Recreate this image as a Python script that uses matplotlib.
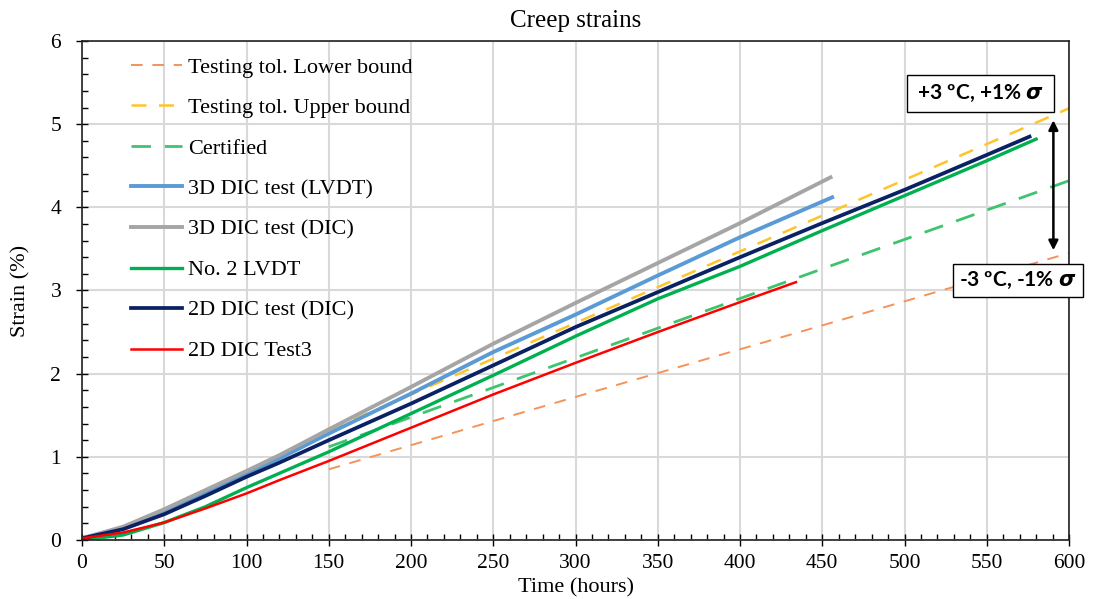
import matplotlib.pyplot as plt
from matplotlib.ticker import MultipleLocator

# testing tolerance bounds and certified curve (start at 150 h)
t_bound = [150, 300, 450, 600]
lower_bound = [0.85, 1.72, 2.58, 3.45]
upper_bound = [1.32, 2.61, 3.90, 5.19]
certified = [1.12, 2.19, 3.26, 4.32]

# 3D DIC test (LVDT)
t_3d_lvdt = [0, 25, 50, 75, 100, 120, 150, 200, 250, 300, 350, 400, 456]
s_3d_lvdt = [0.02, 0.15, 0.35, 0.57, 0.80, 0.98, 1.28, 1.76, 2.26, 2.71, 3.18, 3.64, 4.12]

# 3D DIC test (DIC)
t_3d_dic = [0, 25, 50, 75, 100, 120, 150, 200, 250, 300, 350, 400, 455]
s_3d_dic = [0.02, 0.16, 0.37, 0.60, 0.83, 1.02, 1.33, 1.84, 2.36, 2.85, 3.33, 3.81, 4.36]

# No. 2 LVDT
t_lvdt2 = [0, 25, 50, 75, 100, 150, 200, 250, 300, 350, 400, 450, 500, 550, 580]
s_lvdt2 = [0.0, 0.06, 0.21, 0.40, 0.63, 1.06, 1.52, 1.98, 2.45, 2.90, 3.29, 3.72, 4.14, 4.56, 4.82]

# 2D DIC test (DIC)
t_2d_dic = [0, 25, 50, 75, 100, 120, 150, 200, 250, 300, 350, 400, 450, 500, 550, 576]
s_2d_dic = [0.02, 0.13, 0.31, 0.53, 0.76, 0.93, 1.20, 1.64, 2.10, 2.56, 2.98, 3.40, 3.81, 4.21, 4.63, 4.85]

# 2D DIC Test3
t_2d_t3 = [0, 25, 50, 75, 100, 120, 150, 200, 250, 300, 350, 400, 434]
s_2d_t3 = [0.02, 0.09, 0.21, 0.38, 0.56, 0.72, 0.95, 1.35, 1.75, 2.13, 2.50, 2.86, 3.10]

plt.rcParams['font.family'] = 'Liberation Serif'

fig = plt.figure(figsize=(10.98, 5.99), dpi=100)
ax = fig.add_axes([0.0747, 0.0985, 0.8989, 0.8331])

ax.plot(t_bound, lower_bound, color='#F4935A', lw=1.4, dashes=(6, 5), label='Testing tol. Lower bound')
ax.plot(t_bound, upper_bound, color='#FFC42A', lw=1.8, dashes=(6, 5), label='Testing tol. Upper bound')
ax.plot(t_bound, certified, color='#3EC46E', lw=2.0, dashes=(7, 5), label='Certified')
ax.plot(t_3d_lvdt, s_3d_lvdt, color='#5B9BD5', lw=2.8, label='3D DIC test (LVDT)')
ax.plot(t_3d_dic, s_3d_dic, color='#A5A5A5', lw=2.8, label='3D DIC test (DIC)')
ax.plot(t_lvdt2, s_lvdt2, color='#00B050', lw=2.4, label='No. 2 LVDT')
ax.plot(t_2d_dic, s_2d_dic, color='#0A2264', lw=2.7, label='2D DIC test (DIC)')
ax.plot(t_2d_t3, s_2d_t3, color='#FF0000', lw=1.8, label='2D DIC Test3')

ax.set_xlim(0, 600)
ax.set_ylim(0, 6)
ax.xaxis.set_major_locator(MultipleLocator(50))
ax.xaxis.set_minor_locator(MultipleLocator(10))
ax.yaxis.set_major_locator(MultipleLocator(1))
ax.yaxis.set_minor_locator(MultipleLocator(0.2))
ax.tick_params(which='major', direction='inout', length=8, width=1, labelsize=15.5, pad=6)
ax.tick_params(axis='y', which='major', pad=11)
ax.tick_params(which='minor', direction='in', length=4, width=1)
ax.grid(True, which='major', color='#d9d9d9', lw=1.5)
ax.set_axisbelow(True)
for sp in ax.spines.values():
    sp.set_color('#222222')
    sp.set_linewidth(1.2)

ax.set_xlabel('Time (hours)', fontsize=16, labelpad=4)
ax.set_ylabel('Strain (%)', fontsize=16, labelpad=14)
ax.set_title('Creep strains', fontsize=18, pad=10)

ax.legend(loc='upper left', bbox_to_anchor=(0.029, 1.008), frameon=False, fontsize=16,
          handlelength=2.3, handletextpad=0.3, labelspacing=0.9)

# tolerance band annotation
ax.annotate('', xy=(590.5, 5.08), xytext=(590.5, 3.45),
            arrowprops=dict(arrowstyle='<|-|>', color='black', lw=1.8, mutation_scale=14))
ax.text(546, 5.37, '\u2009+3 ºC, +1% $\\boldsymbol{\\sigma}$\u2009 ', ha='center', va='center', fontsize=15,
        family='Lato', fontweight='bold',
        bbox=dict(boxstyle='square,pad=0.38', fc='white', ec='black', lw=1))
ax.text(569, 3.12, '-3 ºC, -1% $\\boldsymbol{\\sigma}$', ha='center', va='center', fontsize=15,
        family='Lato', fontweight='bold', clip_on=False,
        bbox=dict(boxstyle='square,pad=0.3', fc='white', ec='black', lw=1))

fig.savefig('out.png', dpi=100)
